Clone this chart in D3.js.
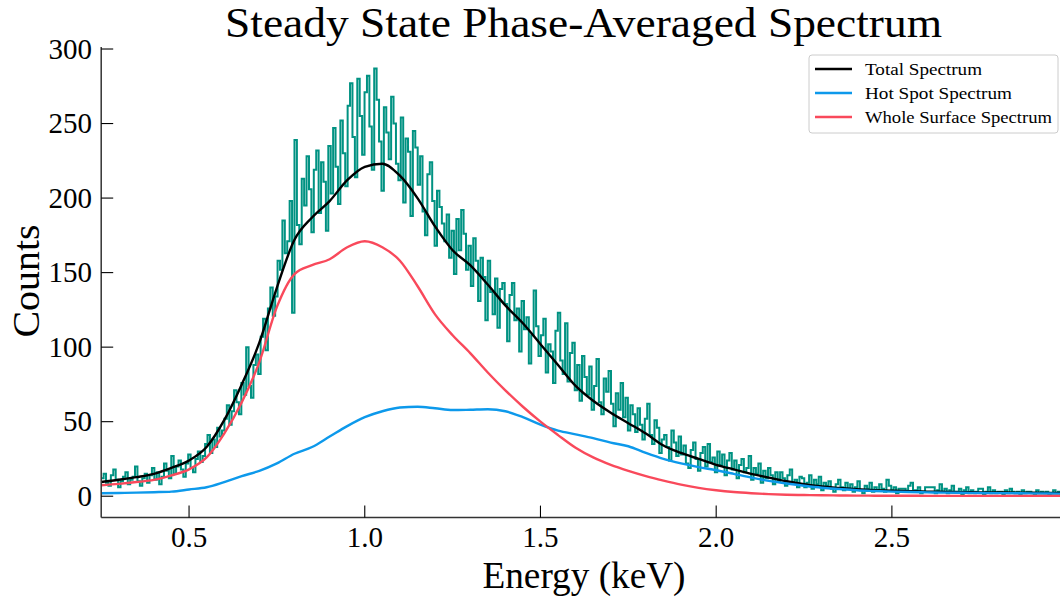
<!DOCTYPE html>
<html>
<head>
<meta charset="utf-8">
<script src="https://cdn.jsdelivr.net/npm/d3@7/dist/d3.min.js"></script>
<style>
  body { margin: 0; background: #fff; }
  text { font-family: "Liberation Serif", "DejaVu Serif", serif; fill: #000; }
</style>
</head>
<body>
<div id="vis"></div>
<script>
var w = 1060;
var h = 599;

// observed counts: 400 equal channels from 0.25 to 3.0 keV
var binStart = 0.25;
var binEnd = 3.0;
var counts = [
  12, 15, 9, 7, 14, 18, 11, 6, 10, 13,
  16, 8, 11, 13, 20, 10, 7, 12, 15, 9,
  14, 19, 11, 16, 8, 13, 22, 17, 12, 27,
  15, 20, 24, 18, 13, 22, 28, 19, 16, 25,
  30, 23, 27, 35, 41, 29, 38, 33, 46, 40,
  44, 52, 61, 48, 57, 71, 63, 55, 76, 68,
  100, 74, 66, 88, 95, 82, 107, 119, 98, 126,
  140, 121, 134, 158, 152, 185, 163, 171, 198, 123,
  239, 182, 169, 213, 195, 228, 206, 177, 219, 232,
  190, 224, 211, 178, 235, 203, 247, 221, 196, 252,
  230, 208, 262, 277, 241, 214, 280, 255, 229, 271,
  282, 248, 219, 287, 266, 238, 205, 261, 244, 226,
  268, 250, 223, 212, 254, 197, 240, 231, 188, 245,
  234, 209, 228, 191, 175, 216, 224, 198, 168, 205,
  194, 183, 171, 189, 160, 178, 149, 186, 165, 192,
  176, 152, 168, 141, 173, 158, 131, 160, 147, 118,
  158, 137, 122, 146, 113, 139, 143, 129, 104, 135,
  143, 118, 126, 97, 131, 112, 120, 89, 108, 138,
  114, 94, 108, 119, 83, 102, 97, 76, 111, 123,
  91, 82, 116, 77, 96, 103, 71, 88, 64, 94,
  80, 68, 87, 58, 74, 92, 63, 55, 79, 70,
  84, 62, 47, 69, 58, 76, 53, 66, 44, 61,
  55, 43, 59, 48, 38, 52, 62, 41, 35, 51,
  46, 29, 38, 41, 33, 24, 44, 36, 27, 40,
  28, 34, 22, 19, 31, 36, 25, 17, 29, 33,
  20, 35, 23, 26, 16, 30, 21, 28, 14, 24,
  29, 18, 24, 12, 21, 25, 16, 19, 27, 11,
  19, 15, 22, 9, 17, 12, 19, 14, 8, 16,
  10, 16, 12, 7, 14, 18, 9, 11, 6, 13,
  12, 6, 9, 14, 5, 11, 8, 13, 4, 9,
  7, 10, 5, 3, 8, 11, 6, 4, 9, 5,
  8, 3, 6, 10, 4, 2, 7, 5, 9, 3,
  6, 4, 8, 5, 3, 11, 7, 4, 6, 2,
  5, 5, 5, 3, 7, 9, 4, 4, 6, 2,
  3, 6, 6, 6, 6, 2, 4, 8, 3, 5,
  2, 4, 7, 3, 3, 5, 1, 4, 6, 2,
  4, 2, 3, 5, 5, 1, 3, 6, 2, 4,
  2, 3, 3, 1, 4, 2, 5, 3, 2, 3,
  1, 4, 2, 3, 3, 2, 1, 4, 2, 3,
  2, 3, 1, 2, 4, 2, 3, 1, 3, 2
];

// model curves sampled every 0.05 keV
var modelEnergy = [
  0.25, 0.30, 0.35, 0.40, 0.45, 0.50, 0.55, 0.60, 0.65, 0.70,
  0.75, 0.80, 0.85, 0.90, 0.95, 1.00, 1.05, 1.10, 1.15, 1.20,
  1.25, 1.30, 1.35, 1.40, 1.45, 1.50, 1.55, 1.60, 1.65, 1.70,
  1.75, 1.80, 1.85, 1.90, 1.95, 2.00, 2.05, 2.10, 2.15, 2.20,
  2.25, 2.30, 2.35, 2.40, 2.45, 2.50, 2.55, 2.60, 2.65, 2.70,
  2.75, 2.80, 2.85, 2.90, 2.95, 3.00
];
var totalModel = [
  9.5, 11, 12.8, 15, 19, 24, 33, 51, 75, 103,
  140, 172, 187, 198, 212, 221, 223, 215, 200, 181,
  165, 155, 142, 128, 116, 102, 88, 74, 64, 56,
  49, 42, 34, 29, 25, 21, 18, 15, 12.5, 10,
  8, 6.5, 5.5, 4.7, 4.1, 3.7, 3.4, 3.1, 2.9, 2.7,
  2.6, 2.5, 2.4, 2.3, 2.2, 2.1
];
var hotSpotModel = [
  2.0, 2.2, 2.4, 2.7, 3.1, 4.5, 6.0, 9.5, 13.5, 17,
  22, 28.5, 33, 40, 47, 53, 57, 59.5, 60, 59,
  57.8, 58, 58.3, 57, 53, 48, 44, 41.5, 39, 36,
  33.5, 29, 25, 22, 19.5, 17.4, 15, 12.5, 10.3, 8.5,
  7, 5.7, 4.8, 4, 3.5, 3.1, 2.8, 2.6, 2.4, 2.3,
  2.2, 2.1, 2.0, 1.9, 1.8, 1.7
];
var surfaceModel = [
  7.4, 8.3, 9.5, 11, 14, 18, 26, 42, 63, 90,
  127, 149, 155, 159, 167, 171, 167, 158, 141, 122,
  108, 96, 83, 71, 60, 50, 41, 32.5, 26, 21,
  17, 13.5, 10.5, 7.8, 5.6, 4.0, 2.8, 2.0, 1.4, 1.0,
  0.8, 0.6, 0.5, 0.4, 0.35, 0.3, 0.3, 0.25, 0.25, 0.2,
  0.2, 0.2, 0.2, 0.2, 0.2, 0.2
];

var xTicks = [0.5, 1.0, 1.5, 2.0, 2.5];
var yTicks = [0, 50, 100, 150, 200, 250, 300];

var legendNames = ["Total Spectrum", "Hot Spot Spectrum", "Whole Surface Spectrum"];
var legendColors = ["#000000", "#0d99eb", "#f9495b"];
var legendWidths = [117, 147, 187];
var dataColor = "#009282";

var pLeft = 101.2, pRight = 1067.6, pTop = 47, pBottom = 517.6;

var canvas = d3.select("#vis").append("svg")
    .attr("width", w)
    .attr("height", h)
    .style("background", "#fff");

var x = d3.scaleLinear().domain([0.25, 3.0]).range([pLeft, pRight]);
var y = d3.scaleLinear().domain([-14.35, 301.35]).range([pBottom, pTop]);

canvas.append("clipPath").attr("id", "plotclip")
  .append("rect")
    .attr("x", pLeft).attr("y", pTop)
    .attr("width", pRight - pLeft).attr("height", pBottom - pTop);

var plot = canvas.append("g").attr("clip-path", "url(#plotclip)");

// step histogram of the data
var binWidth = (binEnd - binStart) / counts.length;
var stepPts = counts.map(function(c, i) { return [binStart + i * binWidth, c]; });
stepPts.push([binEnd, counts[counts.length - 1]]);

plot.append("path")
    .datum(stepPts)
    .attr("fill", "none")
    .attr("stroke", dataColor)
    .attr("stroke-width", 2)
    .attr("d", d3.line()
        .x(function(d) { return x(d[0]); })
        .y(function(d) { return y(d[1]); })
        .curve(d3.curveStepAfter));

var modelLine = d3.line()
    .x(function(d) { return x(d[0]); })
    .y(function(d) { return y(d[1]); })
    .curve(d3.curveMonotoneX);

var models = [totalModel, hotSpotModel, surfaceModel];
models.forEach(function(vals, k) {
  plot.append("path")
      .datum(vals.map(function(v, i) { return [modelEnergy[i], v]; }))
      .attr("fill", "none")
      .attr("stroke", legendColors[k])
      .attr("stroke-width", 2.4)
      .attr("d", modelLine);
});

// spines
canvas.append("line")
    .attr("x1", pLeft).attr("x2", pLeft).attr("y1", pTop).attr("y2", pBottom)
    .attr("stroke", "#333").attr("stroke-width", 1.5);
canvas.append("line")
    .attr("x1", pLeft).attr("x2", pRight).attr("y1", pBottom).attr("y2", pBottom)
    .attr("stroke", "#333").attr("stroke-width", 1.5);

// x ticks (pointing inward)
var xt = canvas.selectAll(".xt").data(xTicks).enter().append("g");
xt.append("line")
    .attr("x1", d => x(d)).attr("x2", d => x(d))
    .attr("y1", pBottom).attr("y2", pBottom - 12)
    .attr("stroke", "#000").attr("stroke-width", 1.1);
xt.append("text")
    .attr("x", d => x(d)).attr("y", 547)
    .attr("text-anchor", "middle")
    .style("font-size", "29px")
    .text(d => d.toFixed(1));

var yt = canvas.selectAll(".yt").data(yTicks).enter().append("g");
yt.append("line")
    .attr("x1", pLeft).attr("x2", pLeft + 12)
    .attr("y1", d => y(d)).attr("y2", d => y(d))
    .attr("stroke", "#000").attr("stroke-width", 1.1);
yt.append("text")
    .attr("x", 92).attr("y", d => y(d) + 9.5)
    .attr("text-anchor", "end")
    .style("font-size", "29px")
    .text(d => d);

// titles
canvas.append("text")
    .attr("x", 583.5).attr("y", 37)
    .attr("text-anchor", "middle")
    .attr("textLength", 717)
    .attr("lengthAdjust", "spacingAndGlyphs")
    .style("font-size", "43px")
    .text("Steady State Phase-Averaged Spectrum");

canvas.append("text")
    .attr("x", 584).attr("y", 588)
    .attr("text-anchor", "middle")
    .attr("textLength", 203)
    .attr("lengthAdjust", "spacingAndGlyphs")
    .style("font-size", "37px")
    .text("Energy (keV)");

canvas.append("text")
    .attr("transform", "translate(39,281) rotate(-90)")
    .attr("text-anchor", "middle")
    .attr("textLength", 113)
    .attr("lengthAdjust", "spacingAndGlyphs")
    .style("font-size", "38px")
    .text("Counts");

// legend
var lg = canvas.append("g");
lg.append("rect")
    .attr("x", 809).attr("y", 55)
    .attr("width", 249).attr("height", 78)
    .attr("rx", 3)
    .attr("fill", "#fff").attr("fill-opacity", 0.8)
    .attr("stroke", "#cccccc").attr("stroke-width", 1);

var items = lg.selectAll(".item").data(legendNames).enter().append("g")
    .attr("transform", (d, i) => "translate(0," + (69 + i * 24) + ")");
items.append("line")
    .attr("x1", 815).attr("x2", 852)
    .attr("stroke", (d, i) => legendColors[i])
    .attr("stroke-width", 2.4);
items.append("text")
    .attr("x", 865).attr("y", 5.5)
    .attr("textLength", (d, i) => legendWidths[i])
    .attr("lengthAdjust", "spacingAndGlyphs")
    .style("font-size", "17px")
    .text(d => d);
</script>
</body>
</html>
